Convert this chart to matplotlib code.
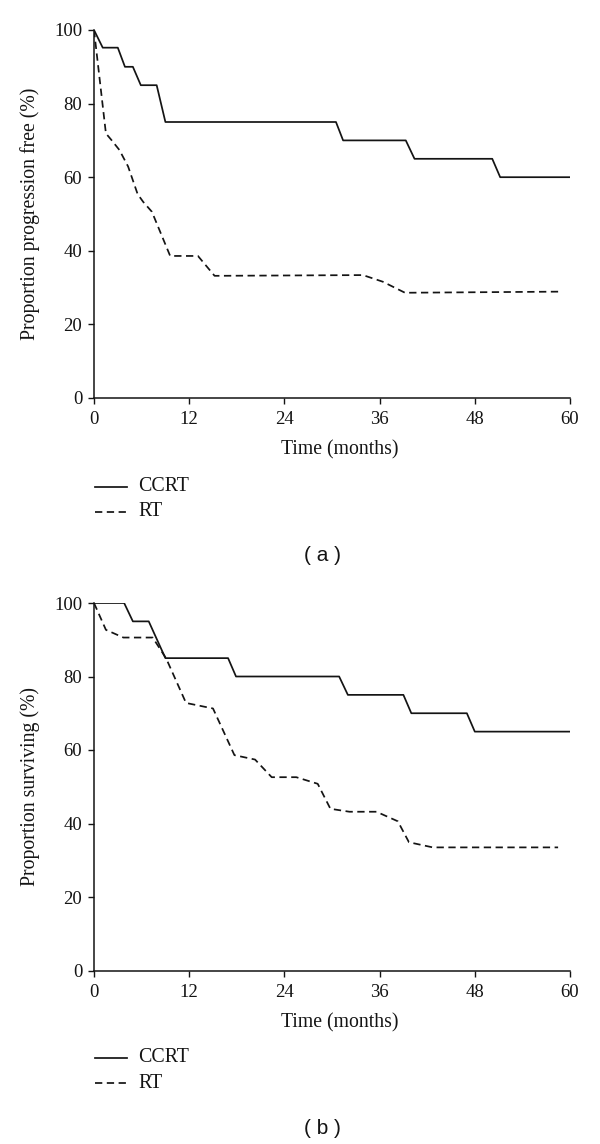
"""Kaplan-Meier style curves: progression-free (a) and overall survival (b)."""

import matplotlib

matplotlib.use("Agg")
import matplotlib.pyplot as plt
from matplotlib.lines import Line2D

plt.rcParams["font.family"] = ["Liberation Serif", "DejaVu Serif"]

# (a) progression free
pfs_ccrt_t = [0, 1.1, 3.0, 3.9, 4.9, 5.9, 7.9, 9.0, 30.5, 31.4, 39.3, 40.4, 50.2, 51.2, 60]
pfs_ccrt_y = [100, 95.2, 95.2, 90, 90, 85, 85, 75, 75, 70, 70, 65, 65, 60, 60]
pfs_rt_t = [0, 1.5, 2.2, 3.2, 4.3, 5.5, 6.2, 7.3, 9.6, 13.1, 15.2, 33.9, 36.4, 39.2, 58.6]
pfs_rt_y = [100, 71.9, 70.1, 67.4, 62.9, 55.4, 53.3, 50.6, 38.6, 38.6, 33.2, 33.4, 31.6, 28.6, 28.9]

# (b) surviving
os_ccrt_t = [0, 3.8, 4.9, 6.9, 9.0, 16.9, 17.9, 30.9, 32.0, 39.0, 40.0, 47.0, 48.0, 60]
os_ccrt_y = [100, 100, 95, 95, 85, 85, 80, 80, 75, 75, 70, 70, 65, 65]
os_rt_t = [0, 1.5, 3.7, 7.4, 9.1, 11.6, 15.0, 17.7, 20.3, 22.4, 25.5, 28.2, 29.8,
           32.2, 35.6, 38.3, 39.7, 42.7, 58.5]
os_rt_y = [100, 92.7, 90.6, 90.6, 84.9, 72.8, 71.3, 58.6, 57.4, 52.6, 52.6, 50.8, 44.0,
           43.2, 43.2, 40.6, 34.9, 33.5, 33.5]

x_ticks = [0, 12, 24, 36, 48, 60]
y_ticks = [0, 20, 40, 60, 80, 100]
series_names = ["CCRT", "RT"]

INK = "#141414"
LW = 1.25
DASH = (4.2, 2.6)
W, H = 600, 1144


def draw_panel(fig, rect, ccrt, rt, ylabel, legend_y, tag, tag_y):
    ax = fig.add_axes(rect)
    ax.plot(ccrt[0], ccrt[1], color=INK, lw=LW)
    ax.plot(rt[0], rt[1], color=INK, lw=LW, dashes=DASH)
    ax.set_xlim(0, 60)
    ax.set_ylim(0, 100)
    ax.set_xticks(x_ticks)
    ax.set_yticks(y_ticks)
    for side in ("top", "right"):
        ax.spines[side].set_visible(False)
    for side in ("left", "bottom"):
        ax.spines[side].set_linewidth(1.1)
        ax.spines[side].set_color(INK)
    ax.tick_params(direction="out", length=4.5, width=1.0, labelsize=13.5, pad=4, colors=INK)
    ax.tick_params(axis="x", pad=5)
    ax.set_xlabel("Time (months)", fontsize=14.2, color=INK)
    ax.set_ylabel(ylabel, fontsize=14.2, color=INK)
    axw, axh = rect[2] * W, rect[3] * H
    ax.xaxis.set_label_coords((340 - 94) / axw, -52 / axh)
    ax.yaxis.set_label_coords(-64 / axw, 0.5)
    ax.xaxis.label.set_va("center")
    ax.yaxis.label.set_va("center")

    # legend drawn by hand below the axis
    for i, (name, dash) in enumerate(zip(series_names, [None, DASH])):
        yy = 1 - (legend_y + i * 25) / H
        kw = {"dashes": dash} if dash else {}
        fig.add_artist(Line2D([95 / W, 127 / W], [yy, yy], color=INK, lw=LW, **kw))
        fig.text(138 / W, yy, name, fontsize=14.3, va="center", ha="left", color=INK)

    fig.text(322 / W, 1 - tag_y / H, f"( {tag} )", fontsize=15, ha="center", va="center",
             family=["Liberation Sans", "DejaVu Sans"], color=INK)
    return ax


fig = plt.figure(figsize=(W / 100, H / 100), dpi=100)
draw_panel(fig, [94 / W, 1 - 398 / H, 476 / W, 368 / H],
           (pfs_ccrt_t, pfs_ccrt_y), (pfs_rt_t, pfs_rt_y),
           "Proportion progression free (%)", 487, "a", 555)
draw_panel(fig, [94 / W, 1 - 970.5 / H, 476 / W, 367.5 / H],
           (os_ccrt_t, os_ccrt_y), (os_rt_t, os_rt_y),
           "Proportion surviving (%)", 1058, "b", 1128)

fig.savefig("out.png", dpi=100)
